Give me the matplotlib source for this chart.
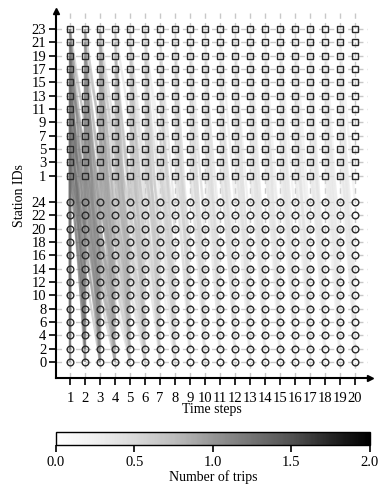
import matplotlib
matplotlib.use("Agg")
import matplotlib.pyplot as plt
from matplotlib.collections import LineCollection
from matplotlib.colors import Normalize

plt.rcParams["font.family"] = ["Liberation Serif", "DejaVu Serif"]
plt.rcParams["font.size"] = 10

time_steps = list(range(1, 21))
square_stations = [1, 3, 5, 7, 9, 11, 13, 15, 17, 19, 21, 23]
circle_stations = [0, 2, 4, 6, 8, 10, 12, 14, 16, 18, 20, 22, 24]

# destination (circle station) of the trip leaving each square station
# (rows = departure step, columns = square_stations order)
dest_same_step = [  # arrive in the same step, steps 1-3
    [2, 8, 4, 12, 0, 6, 16, 10, 2, 14, 4, 0],
    [6, 0, 10, 4, 8, 2, 12, 0, 18, 6, 2, 10],
    [0, 4, 2, 8, 12, 6, 0, 14, 4, 2, 10, 20],
]
dest_next_step = [  # arrive one step later, steps 1-19
    [6, 2, 10, 0, 14, 4, 8, 18, 2, 12, 6, 20],
    [4, 8, 0, 12, 2, 16, 6, 10, 22, 4, 14, 0],
    [10, 0, 6, 14, 4, 2, 18, 8, 12, 0, 20, 6],
    [2, 12, 4, 8, 16, 0, 10, 6, 14, 24, 2, 8],
    [8, 4, 14, 2, 10, 6, 0, 20, 4, 12, 16, 2],
    [0, 10, 6, 16, 2, 12, 4, 8, 18, 6, 0, 14],
    [12, 2, 8, 0, 6, 20, 14, 2, 10, 4, 22, 8],
    [4, 14, 0, 10, 18, 2, 8, 12, 6, 16, 2, 10],
    [6, 0, 12, 4, 8, 14, 2, 22, 10, 0, 6, 18],
    [2, 8, 16, 6, 0, 10, 12, 4, 20, 8, 14, 2],
    [10, 4, 2, 14, 8, 0, 18, 6, 2, 12, 4, 24],
    [0, 12, 6, 2, 16, 8, 4, 14, 0, 20, 10, 6],
    [8, 2, 10, 18, 4, 12, 0, 6, 16, 2, 8, 14],
    [14, 6, 0, 8, 2, 20, 10, 4, 12, 6, 18, 0],
    [2, 10, 4, 12, 6, 0, 16, 8, 2, 14, 22, 4],
    [6, 0, 14, 2, 10, 8, 4, 18, 6, 0, 12, 20],
    [12, 4, 8, 0, 16, 2, 6, 10, 14, 4, 2, 8],
    [0, 8, 2, 10, 4, 14, 20, 0, 6, 12, 8, 16],
    [4, 14, 6, 2, 12, 0, 8, 16, 4, 10, 24, 2],
]
dest_two_steps = [  # arrive two steps later, steps 1-6
    [0, 4, 8, 2, 12, 6, 10, 0, 16, 4, 2, 8],
    [2, 10, 0, 6, 4, 14, 2, 8, 0, 12, 6, 18],
    [8, 0, 4, 12, 2, 10, 6, 20, 2, 0, 14, 4],
    [4, 6, 16, 0, 8, 2, 12, 4, 10, 6, 0, 22],
    [10, 2, 6, 4, 0, 18, 8, 2, 14, 4, 12, 0],
    [0, 12, 2, 10, 6, 4, 16, 0, 8, 2, 20, 6],
]
dest_three_steps = [  # arrive three steps later, steps 1-3
    [4, 0, 2, 10, 6, 8, 0, 14, 4, 2, 12, 6],
    [0, 6, 12, 2, 4, 0, 10, 6, 2, 16, 8, 4],
    [2, 4, 0, 8, 14, 2, 6, 0, 12, 4, 10, 2],
]

# number of trips per departure step for each group above
count_same_step = [1.25, 1.0, 0.8]
count_next_step = [1.3, 1.1, 0.95, 0.85, 0.75, 0.68, 0.62, 0.58, 0.54, 0.5,
                   0.48, 0.46, 0.44, 0.42, 0.41, 0.4, 0.39, 0.38, 0.37]
count_two_steps = [1.05, 0.85, 0.7, 0.6, 0.5, 0.45]
count_three_steps = [0.9, 0.7, 0.55]

# vertical layout: circles in the lower block, squares above a two-row gap
circle_pos = {s: i for i, s in enumerate(circle_stations)}
square_pos = {s: len(circle_stations) + 1 + i for i, s in enumerate(square_stations)}


def build_segments():
    segs, vals = [], []
    groups = [
        (dest_same_step, count_same_step, 0),
        (dest_next_step, count_next_step, 1),
        (dest_two_steps, count_two_steps, 2),
        (dest_three_steps, count_three_steps, 3),
    ]
    for dest_rows, counts, lag in groups:
        for step, (row, c) in enumerate(zip(dest_rows, counts), start=1):
            for origin, dest in zip(square_stations, row):
                segs.append([(step, square_pos[origin]), (step + lag, circle_pos[dest])])
                vals.append(c)
    # draw light trips first so the heavy ones stay on top
    order = sorted(range(len(vals)), key=lambda i: vals[i])
    return [segs[i] for i in order], [vals[i] for i in order]


def main() -> None:
    fig = plt.figure(figsize=(3.9, 4.93), dpi=100)
    ax = fig.add_axes([0.1436, 0.2333, 0.80, 0.7403])
    cax = fig.add_axes([0.1436, 0.0974, 0.805, 0.0264])

    segs, vals = build_segments()
    norm = Normalize(0.0, 2.0)
    lc = LineCollection(segs, cmap="Greys", norm=norm, linewidths=1.6, alpha=0.4, zorder=2)
    lc.set_array(vals)
    ax.add_collection(lc)

    for t in time_steps:
        ax.plot([t] * len(square_stations), [square_pos[s] for s in square_stations],
                ls="none", marker="s", ms=4.6, mfc="none", mec="#2b2b2b", mew=1.0, zorder=3)
        ax.plot([t] * len(circle_stations), [circle_pos[s] for s in circle_stations],
                ls="none", marker="o", ms=4.8, mfc="none", mec="#2b2b2b", mew=1.0, zorder=3)

    yticks = [circle_pos[s] for s in circle_stations] + [square_pos[s] for s in square_stations]
    ylabels = [str(s) for s in circle_stations] + [str(s) for s in square_stations]
    ax.set_yticks(yticks)
    ax.set_yticklabels(ylabels)
    ax.set_xticks(time_steps)
    ax.set_xlim(0.07, 20.87)
    ax.set_ylim(-1.2, 26.2)

    ax.set_axisbelow(True)
    ax.grid(True, linestyle=(0, (4, 3)), color="#c8c8c8", linewidth=1.0)
    for side in ["top", "right"]:
        ax.spines[side].set_visible(False)
    for side in ["left", "bottom"]:
        ax.spines[side].set_linewidth(1.5)
    ax.plot(0, 1.005, marker="^", ms=4, color="black", transform=ax.transAxes, clip_on=False)
    ax.plot(1.005, 0, marker=">", ms=4, color="black", transform=ax.transAxes, clip_on=False)
    ax.tick_params(direction="out", length=5, width=1.2, pad=2, labelsize=10.5)
    ax.tick_params(axis="x", pad=5)

    ax.set_xlabel("Time steps", labelpad=-1)
    ax.set_ylabel("Station IDs", labelpad=4)

    cb = fig.colorbar(lc, cax=cax, orientation="horizontal")
    cb.solids.set_alpha(1.0)
    cb.set_ticks([0.0, 0.5, 1.0, 1.5, 2.0])
    cb.set_label("Number of trips", labelpad=1)
    cb.outline.set_linewidth(1.0)
    cax.tick_params(direction="out", length=5, width=1.2, labelsize=10.5, pad=3)

    fig.savefig("out.png", dpi=100)
    plt.close(fig)


if __name__ == "__main__":
    main()
